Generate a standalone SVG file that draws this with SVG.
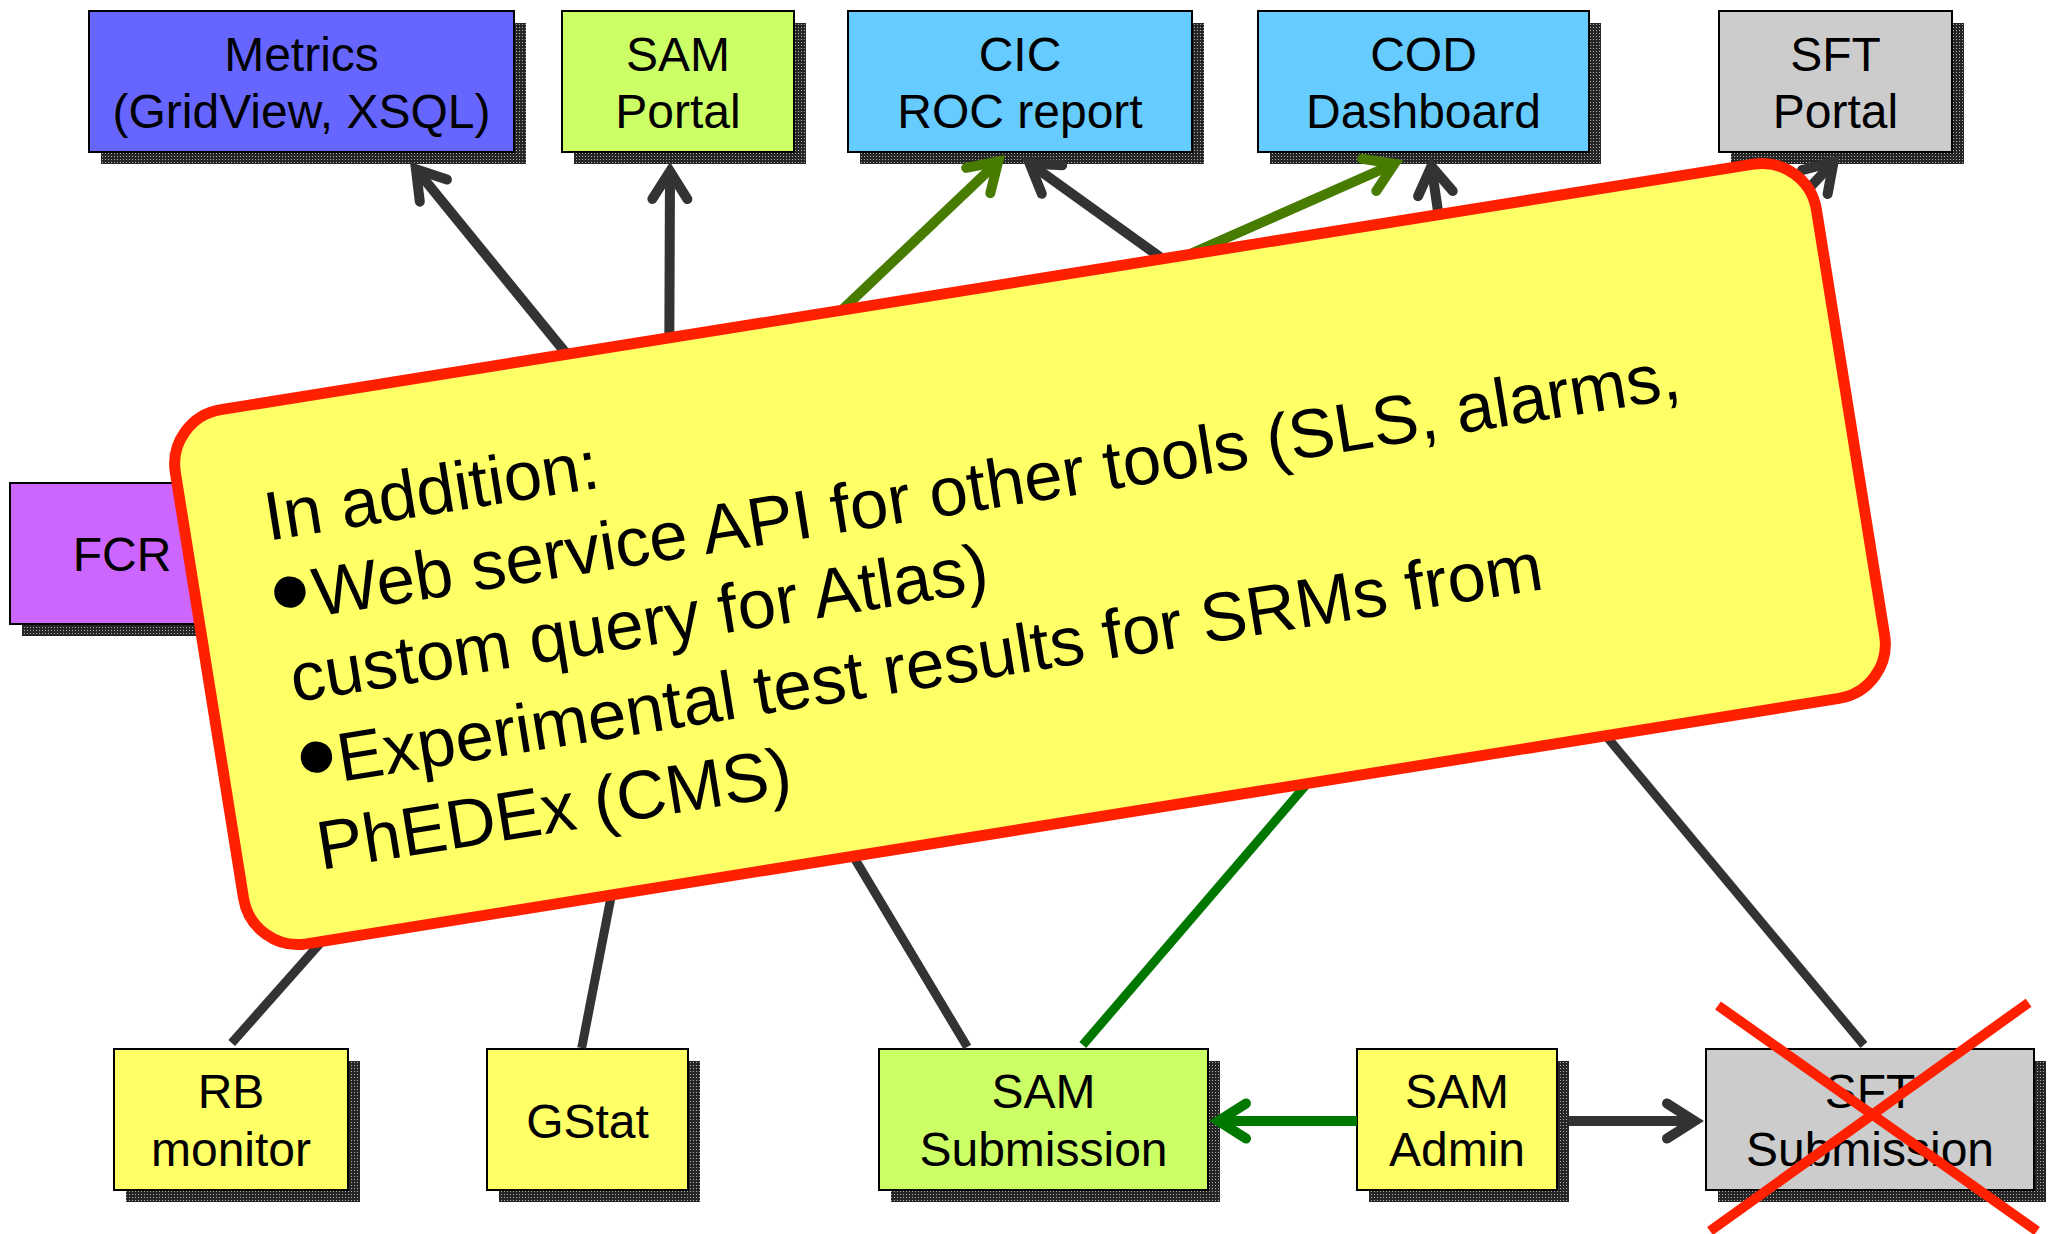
<svg xmlns="http://www.w3.org/2000/svg" width="2049" height="1234" viewBox="0 0 2049 1234">
<defs>
<style>
.box{stroke:#000;stroke-width:2}
.sh{fill:url(#hatch)}
.lbl{font-family:"Liberation Sans",Arial,sans-serif;font-size:48px;fill:#000;text-anchor:middle}
.note{font-family:"Liberation Sans",Arial,sans-serif;font-size:69px;fill:#000}
.bul{font-family:"Liberation Sans",Arial,sans-serif;font-size:116px;fill:#000}
.dk{stroke:#333333;fill:none}
.ol{stroke:#477C00;fill:none}
.gr{stroke:#007800;fill:none}
.w10{stroke-width:10}
.w9{stroke-width:9}
</style>
<pattern id="hatch" width="3" height="3" patternUnits="userSpaceOnUse"><rect width="3" height="3" fill="#262626"/><rect width="1" height="1" fill="#b0b0b0"/></pattern>
<marker id="aDk" markerUnits="userSpaceOnUse" viewBox="-45 -25 50 50" refX="-10" refY="0" markerWidth="50" markerHeight="50" orient="auto-start-reverse"><path d="M-37,-17.5 L-9.4,0 L-37,17.5" fill="none" stroke="#333333" stroke-width="10" stroke-linecap="round" stroke-linejoin="miter" stroke-miterlimit="10"/></marker>
<marker id="aOl" markerUnits="userSpaceOnUse" viewBox="-45 -25 50 50" refX="-10" refY="0" markerWidth="50" markerHeight="50" orient="auto-start-reverse"><path d="M-37,-17.5 L-9.4,0 L-37,17.5" fill="none" stroke="#477C00" stroke-width="10" stroke-linecap="round" stroke-linejoin="miter" stroke-miterlimit="10"/></marker>
<marker id="aGr" markerUnits="userSpaceOnUse" viewBox="-45 -25 50 50" refX="-10" refY="0" markerWidth="50" markerHeight="50" orient="auto-start-reverse"><path d="M-37,-17.5 L-9.4,0 L-37,17.5" fill="none" stroke="#007800" stroke-width="10" stroke-linecap="round" stroke-linejoin="miter" stroke-miterlimit="10"/></marker>
</defs>
<rect width="2049" height="1234" fill="#fff"/>

<g id="node-metrics">
<rect class="sh" x="101" y="23" width="425" height="141"/>
<rect class="box" x="89" y="11" width="425" height="141" fill="#6666FF"/>
<text class="lbl" x="301.5" y="71">Metrics</text>
<text class="lbl" x="301.5" y="128">(GridView, XSQL)</text>
</g>
<g id="node-sam-portal">
<rect class="sh" x="574" y="23" width="232" height="141"/>
<rect class="box" x="562" y="11" width="232" height="141" fill="#CCFF66"/>
<text class="lbl" x="678" y="71">SAM</text>
<text class="lbl" x="678" y="128">Portal</text>
</g>
<g id="node-cic">
<rect class="sh" x="860" y="23" width="344" height="141"/>
<rect class="box" x="848" y="11" width="344" height="141" fill="#66CCFF"/>
<text class="lbl" x="1020" y="71">CIC</text>
<text class="lbl" x="1020" y="128">ROC report</text>
</g>
<g id="node-cod">
<rect class="sh" x="1270" y="23" width="331" height="141"/>
<rect class="box" x="1258" y="11" width="331" height="141" fill="#66CCFF"/>
<text class="lbl" x="1423.5" y="71">COD</text>
<text class="lbl" x="1423.5" y="128">Dashboard</text>
</g>
<g id="node-sft-portal">
<rect class="sh" x="1731" y="23" width="233" height="141"/>
<rect class="box" x="1719" y="11" width="233" height="141" fill="#CCCCCC"/>
<text class="lbl" x="1835.5" y="71">SFT</text>
<text class="lbl" x="1835.5" y="128">Portal</text>
</g>
<g id="node-fcr">
<rect class="sh" x="22" y="495" width="224" height="141"/>
<rect class="box" x="10" y="483" width="224" height="141" fill="#CC66FF"/>
<text class="lbl" x="122" y="571">FCR</text>
</g>
<g id="node-rb-monitor">
<rect class="sh" x="126" y="1061" width="234" height="141"/>
<rect class="box" x="114" y="1049" width="234" height="141" fill="#FFFF66"/>
<text class="lbl" x="231" y="1108">RB</text>
<text class="lbl" x="231" y="1166">monitor</text>
</g>
<g id="node-gstat">
<rect class="sh" x="499" y="1061" width="201" height="141"/>
<rect class="box" x="487" y="1049" width="201" height="141" fill="#FFFF66"/>
<text class="lbl" x="587.5" y="1138">GStat</text>
</g>
<g id="node-sam-submission">
<rect class="sh" x="891" y="1061" width="329" height="141"/>
<rect class="box" x="879" y="1049" width="329" height="141" fill="#CCFF66"/>
<text class="lbl" x="1043.5" y="1108">SAM</text>
<text class="lbl" x="1043.5" y="1166">Submission</text>
</g>
<g id="node-sam-admin">
<rect class="sh" x="1369" y="1061" width="200" height="141"/>
<rect class="box" x="1357" y="1049" width="200" height="141" fill="#FFFF66"/>
<text class="lbl" x="1457" y="1108">SAM</text>
<text class="lbl" x="1457" y="1166">Admin</text>
</g>
<g id="node-sft-submission">
<rect class="sh" x="1718" y="1061" width="328" height="141"/>
<rect class="box" x="1706" y="1049" width="328" height="141" fill="#CCCCCC"/>
<text class="lbl" x="1870" y="1108">SFT</text>
<text class="lbl" x="1870" y="1166">Submission</text>
</g>

<g id="connectors">
<path class="dk w10" d="M416.3,169.7 L640,444" marker-start="url(#aDk)"/>
<path class="dk w10" d="M670,172 L669,420" marker-start="url(#aDk)"/>
<path class="ol w10" d="M997.8,161.9 L742,405" marker-start="url(#aOl)"/>
<path class="dk w10" d="M1030.1,163.8 L1284,346" marker-start="url(#aDk)"/>
<path class="ol w10" d="M1393.9,164 L1077,304" marker-start="url(#aOl)"/>
<path class="dk w10" d="M1431.5,166.9 L1452,307" marker-start="url(#aDk)"/>
<path class="dk w10" d="M1833.2,162.3 L1704,301" marker-start="url(#aDk)"/>
<path class="dk w9" d="M231.7,1043 L434,815"/>
<path class="dk w9" d="M581.7,1048 L638,758"/>
<path class="dk w9" d="M967.3,1047 L767,712"/>
<path class="gr w9" d="M1082.8,1045 L1433,637"/>
<path class="dk w9" d="M1863.9,1045 L1481,586"/>
<path class="gr w10" d="M1219,1121 L1357,1121" marker-start="url(#aGr)"/>
<path class="dk w10" d="M1694,1121 L1569,1121" marker-start="url(#aDk)"/>
</g>

<g id="note" transform="translate(1030 554) rotate(-9.1)">
<rect x="-831" y="-270.5" width="1662" height="541" rx="55" ry="55" fill="#FFFF66" stroke="#FF2000" stroke-width="11"/>
<text class="note" x="-750" y="-133.5">In addition:</text>
<text class="bul" x="-757" y="-41">•</text>
<text class="note" x="-714" y="-51">Web service API for other tools (SLS, alarms,</text>
<text class="note" x="-750" y="30">custom query for Atlas)</text>
<text class="bul" x="-757" y="126">•</text>
<text class="note" x="-716" y="116">Experimental test results for SRMs from</text>
<text class="note" x="-750" y="200">PhEDEx (CMS)</text>
</g>

<g id="cross" stroke="#FF2000" stroke-width="10" fill="none">
<path d="M1718,1005.5 L2037,1231"/>
<path d="M2028.6,1002.7 L1710,1231"/>
</g>
</svg>
